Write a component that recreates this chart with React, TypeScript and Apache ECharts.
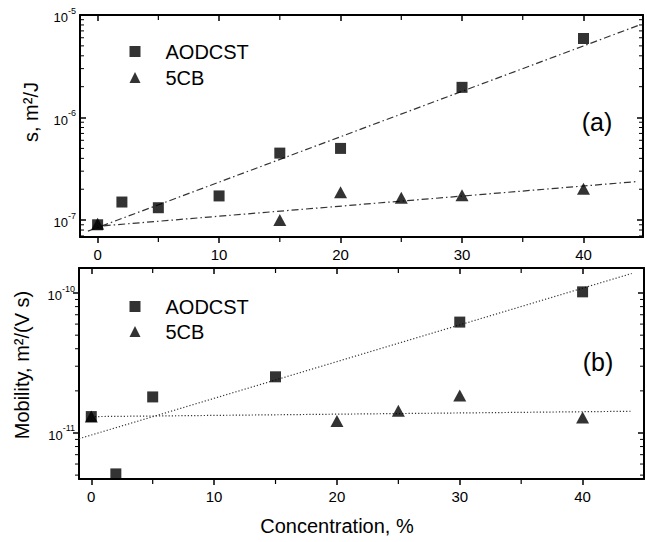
import React, { useEffect, useRef } from 'react';
import * as echarts from 'echarts';

// ---- Panel (a): s, m2/J ----
const concAodcstA = [0, 2, 5, 10, 15, 20, 30, 40];
const sAodcst = [9.0e-8, 1.5e-7, 1.32e-7, 1.72e-7, 4.5e-7, 5.0e-7, 1.97e-6, 5.9e-6];
const conc5cbA = [0, 15, 20, 25, 30, 40];
const s5cb = [9.2e-8, 1.0e-7, 1.87e-7, 1.65e-7, 1.75e-7, 2.02e-7];
const fitAodcstAx = [-0.8, 44.5];
const fitAodcstAy = [7.8e-8, 7.9e-6];
const fit5cbAx = [0.5, 44.5];
const fit5cbAy = [8.8e-8, 2.38e-7];

// ---- Panel (b): Mobility, m2/(V s) ----
const concAodcstB = [0, 2, 5, 15, 30, 40];
const mAodcst = [1.31e-11, 5.1e-12, 1.81e-11, 2.52e-11, 6.2e-11, 1.02e-10];
const conc5cbB = [0, 20, 25, 30, 40];
const m5cb = [1.31e-11, 1.22e-11, 1.44e-11, 1.85e-11, 1.29e-11];
const fitAodcstBx = [-1, 44];
const fitAodcstBy = [9.1e-12, 1.38e-10];
const fit5cbBx = [0.3, 44];
const fit5cbBy = [1.31e-11, 1.43e-11];

// ---- Axes ----
const xTickValues = [0, 10, 20, 30, 40];
const xMinorValues = [5, 15, 25, 35];
const yTicksA = [1e-7, 1e-6, 1e-5];
const yTicksB = [1e-11, 1e-10];
const xRangeA = [-1.45, 44.9];
const yRangeA = [6.84e-8, 1e-5];
const xRangeB = [-1, 45];
const yRangeB = [4.69e-12, 1.51e-10];

const FONT = '"Liberation Sans", Arial, Helvetica, sans-serif';

function logMinor(range: number[]) {
  const out: number[] = [];
  const e0 = Math.floor(Math.log10(range[0]));
  const e1 = Math.ceil(Math.log10(range[1]));
  for (let e = e0; e <= e1; e++) {
    for (let k = 2; k <= 9; k++) {
      const v = k * Math.pow(10, e);
      if (v > range[0] && v < range[1]) out.push(v);
    }
  }
  return out;
}

function pairs(xs: number[], ys: number[]) {
  return xs.map((x, i) => [x, ys[i]]);
}

const yLabel = {
  formatter: (v: number) => `{a|10}{b|${Math.round(Math.log10(v))}}`,
  rich: {
    a: { fontSize: 13, fontFamily: FONT, color: '#000', lineHeight: 18, verticalAlign: 'bottom' },
    b: { fontSize: 9, fontFamily: FONT, color: '#000', lineHeight: 10, verticalAlign: 'top' },
  },
};

const MINOR_LEN = 4;
const MINOR_COLOR = '#000';

function minorTicks(xi: number, yi: number, xr: number[], yr: number[], leftOut: boolean) {
  const ySeries = {
    type: 'custom', xAxisIndex: xi, yAxisIndex: yi, clip: false, silent: true, z: 10,
    dimensions: ['x', 'y'], encode: { x: 0, y: 1 },
    data: logMinor(yr).map((v) => [xr[0], v]),
    renderItem: (params: any, api: any) => {
      const v = api.value(1);
      const l = api.coord([xr[0], v]);
      const r = api.coord([xr[1], v]);
      return {
        type: 'group',
        children: [
          { type: 'rect', shape: { x: leftOut ? l[0] - MINOR_LEN : l[0], y: l[1] - 0.5, width: MINOR_LEN, height: 1 }, style: { fill: MINOR_COLOR } },
          { type: 'rect', shape: { x: r[0] - MINOR_LEN, y: r[1] - 0.5, width: MINOR_LEN, height: 1 }, style: { fill: MINOR_COLOR } },
        ],
      };
    },
  };
  const xSeries = {
    type: 'custom', xAxisIndex: xi, yAxisIndex: yi, clip: false, silent: true, z: 10,
    dimensions: ['x', 'y'], encode: { x: 0, y: 1 },
    data: xMinorValues.map((x) => [x, yr[0]]),
    renderItem: (params: any, api: any) => {
      const x = api.value(0);
      const b = api.coord([x, yr[0]]);
      const t = api.coord([x, yr[1]]);
      return {
        type: 'group',
        children: [
          { type: 'rect', shape: { x: b[0] - 0.6, y: b[1], width: 1.2, height: MINOR_LEN + 1 }, style: { fill: MINOR_COLOR } },
          { type: 'rect', shape: { x: t[0] - 0.6, y: t[1], width: 1.2, height: MINOR_LEN + 1 }, style: { fill: MINOR_COLOR } },
        ],
      };
    },
  };
  return [ySeries, xSeries];
}

const axisLine = { show: true, onZero: false, lineStyle: { color: '#000', width: 2 } };
const MAJOR = { color: '#000', width: 1.5 };

function xAxes(gi: number, xr: number[]) {
  const base = { type: 'value', gridIndex: gi, min: xr[0], max: xr[1], splitLine: { show: false } };
  return [
    {
      ...base, position: 'bottom', axisLine,
      axisTick: { show: true, inside: false, length: 6, customValues: xTickValues, lineStyle: MAJOR },
      axisLabel: { show: true, customValues: xTickValues, fontSize: 15, fontFamily: FONT, color: '#000', margin: 10 },
    },
    {
      ...base, position: 'top', axisLine,
      axisTick: { show: true, inside: true, length: 6, customValues: xTickValues, lineStyle: MAJOR },
      axisLabel: { show: false },
    },
  ];
}

function yAxes(gi: number, yr: number[], ticks: number[], leftInside: boolean) {
  const base = { type: 'log', logBase: 10, gridIndex: gi, min: yr[0], max: yr[1], splitLine: { show: false } };
  return [
    {
      ...base, position: 'left', axisLine,
      axisTick: { show: true, inside: leftInside, length: 6, customValues: ticks, lineStyle: MAJOR },
      axisLabel: { show: true, customValues: ticks, margin: 4, ...yLabel },
    },
    {
      ...base, position: 'right', axisLine,
      axisTick: { show: true, inside: true, length: 6, customValues: ticks, lineStyle: MAJOR },
      axisLabel: { show: false },
    },
  ];
}

function scatter(name: string, symbol: string, size: any, xi: number, yi: number, data: number[][]) {
  return {
    type: 'scatter', name, symbol, symbolSize: size, xAxisIndex: xi, yAxisIndex: yi,
    itemStyle: { color: '#000' }, data, z: 5,
  };
}

function fit(name: string, xi: number, yi: number, data: number[][], dash: any) {
  return {
    type: 'line', name, xAxisIndex: xi, yAxisIndex: yi, data, showSymbol: false, symbol: 'none',
    lineStyle: { color: '#333', width: 1.2, type: dash }, z: 3, silent: true,
  };
}

function legend(top: number, gap: number) {
  return {
    left: 124.5, top, orient: 'vertical', itemWidth: 11, itemHeight: 11, itemGap: gap,
    selectedMode: false,
    data: [{ name: 'AODCST', icon: 'rect' }, { name: '5CB', icon: 'triangle' }],
    textStyle: { fontSize: 20, fontFamily: FONT, color: '#000', padding: [0, 0, 0, 20] },
  };
}

export default function App() {
  const ref = useRef<HTMLDivElement>(null);
  useEffect(() => {
    if (!ref.current) return;
    const chart = echarts.init(ref.current, undefined, { renderer: 'svg' });
    const option: any = {
      animation: false,
      backgroundColor: '#fff',
      grid: [
        { left: 80, right: 4, top: 15, height: 222 },
        { left: 79, right: 3, top: 268, height: 211 },
      ],
      xAxis: [...xAxes(0, xRangeA), ...xAxes(1, xRangeB)],
      yAxis: [...yAxes(0, yRangeA, yTicksA, true), ...yAxes(1, yRangeB, yTicksB, false)],
      legend: [legend(36.5, 6), legend(291.5, 5)],
      series: [
        fit('fitAodcstA', 0, 0, pairs(fitAodcstAx, fitAodcstAy), [7, 3, 1.5, 3]),
        fit('fit5cbA', 0, 0, pairs(fit5cbAx, fit5cbAy), [7, 3, 1.5, 3]),
        scatter('AODCST', 'rect', 11, 0, 0, pairs(concAodcstA, sAodcst)),
        scatter('5CB', 'triangle', [13, 12], 0, 0, pairs(conc5cbA, s5cb)),
        ...minorTicks(0, 0, xRangeA, yRangeA, false),
        fit('fitAodcstB', 2, 2, pairs(fitAodcstBx, fitAodcstBy), [1.2, 2]),
        fit('fit5cbB', 2, 2, pairs(fit5cbBx, fit5cbBy), [1.2, 2]),
        scatter('AODCST', 'rect', 11, 2, 2, pairs(concAodcstB, mAodcst)),
        scatter('5CB', 'triangle', [13, 12], 2, 2, pairs(conc5cbB, m5cb)),
        ...minorTicks(2, 2, xRangeB, yRangeB, true),
      ],
      graphic: [
        {
          type: 'text', x: 31, y: 112, rotation: Math.PI / 2,
          style: { text: 's, m²/J', font: `20px ${FONT}`, fill: '#000', align: 'center', verticalAlign: 'middle' },
        },
        {
          type: 'text', x: 22, y: 365, rotation: Math.PI / 2,
          style: { text: 'Mobility, m²/(V s)', font: `20px ${FONT}`, fill: '#000', align: 'center', verticalAlign: 'middle' },
        },
        {
          type: 'text', x: 337, y: 526,
          style: { text: 'Concentration, %', font: `20px ${FONT}`, fill: '#000', align: 'center', verticalAlign: 'middle' },
        },
        {
          type: 'text', x: 597, y: 122,
          style: { text: '(a)', font: `25px ${FONT}`, fill: '#000', align: 'center', verticalAlign: 'middle' },
        },
        {
          type: 'text', x: 598, y: 362,
          style: { text: '(b)', font: `25px ${FONT}`, fill: '#000', align: 'center', verticalAlign: 'middle' },
        },
      ],
    };
    chart.setOption(option);
    return () => chart.dispose();
  }, []);
  return <div ref={ref} style={{ width: 647, height: 542, position: 'absolute', left: 0, top: 0 }} />;
}
